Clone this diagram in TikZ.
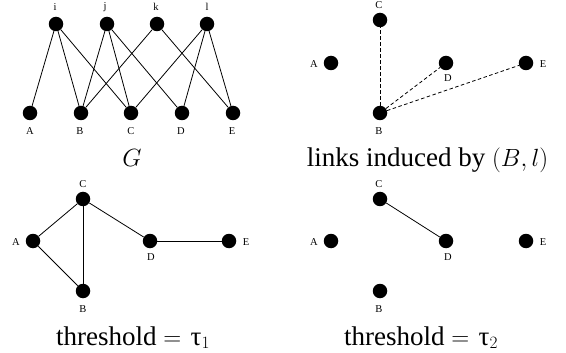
\documentclass[tikz,border=0pt]{standalone}
\usepackage{fontspec}
\setmainfont{Liberation Serif}
\begin{document}
\begin{tikzpicture}[x=1pt,y=-1pt,
  vtx/.style={circle,fill=black,inner sep=0pt,minimum size=14.5pt},
  lbl/.style={font=\fontsize{10.5}{10.5}\selectfont,inner sep=0pt},
  captxt/.style={font=\fontsize{27}{27}\selectfont,inner sep=0pt,anchor=base},
  lnk/.style={line width=0.8pt},
  dlnk/.style={line width=0.8pt,dash pattern=on 3.5pt off 2.5pt}]
\useasboundingbox (0,0) rectangle (566,353);
% ---------- panel G ----------
\node[vtx] (gi) at (56,24) {};
\node[vtx] (gj) at (107,24) {};
\node[vtx] (gk) at (157,24) {};
\node[vtx] (gl) at (207,24) {};
\node[vtx] (gA) at (30,113) {};
\node[vtx] (gB) at (81,113) {};
\node[vtx] (gC) at (131,113) {};
\node[vtx] (gD) at (182,113) {};
\node[vtx] (gE) at (233,113) {};
\node[lbl] (lgi) at (55,7) {i};
\node[lbl] (lgj) at (105,7) {j};
\node[lbl] (lgk) at (156,7) {k};
\node[lbl] (lgl) at (207,7) {l};
\node[lbl] (lgA) at (30,131) {A};
\node[lbl] (lgB) at (80,131) {B};
\node[lbl] (lgC) at (131,131) {C};
\node[lbl] (lgD) at (181,131) {D};
\node[lbl] (lgE) at (232,131) {E};
\foreach \a/\b in {gi/gA,gi/gB,gi/gC,gj/gB,gj/gC,gj/gD,gk/gB,gk/gE,gl/gC,gl/gD,gl/gE}
  \draw[lnk] (\a) -- (\b);
\node[captxt] (capG) at (132,167) {$G$};
% ---------- panel links ----------
\node[vtx] (pC) at (380,20) {};
\node[vtx] (pA) at (331,63) {};
\node[vtx] (pD) at (446,63) {};
\node[vtx] (pE) at (526,63) {};
\node[vtx] (pB) at (380,113) {};
\node[lbl] (lpC) at (379,5.5) {C};
\node[lbl] (lpA) at (314,64) {A};
\node[lbl] (lpD) at (448,78) {D};
\node[lbl] (lpE) at (543,64) {E};
\node[lbl] (lpB) at (379,131) {B};
\foreach \b in {pC,pD,pE}
  \draw[dlnk] (pB) -- (\b);
\node[captxt] (capP) at (427.5,167) {links induced by $(B,l)$};
% ---------- panel tau1 ----------
\node[vtx] (qC) at (83,199) {};
\node[vtx] (qA) at (33,241) {};
\node[vtx] (qD) at (150,241) {};
\node[vtx] (qE) at (229,241) {};
\node[vtx] (qB) at (83,291) {};
\node[lbl] (lqC) at (83,184) {C};
\node[lbl] (lqA) at (16,242) {A};
\node[lbl] (lqD) at (151,257) {D};
\node[lbl] (lqE) at (246,242) {E};
\node[lbl] (lqB) at (83,309) {B};
\foreach \a/\b in {qC/qA,qA/qB,qC/qB,qC/qD,qD/qE}
  \draw[lnk] (\a) -- (\b);
\node[captxt] (capQ) at (133,345) {threshold $=$\hspace{0.35em}τ$_1$};
% ---------- panel tau2 ----------
\node[vtx] (rC) at (380,199) {};
\node[vtx] (rA) at (331,241) {};
\node[vtx] (rD) at (446,241) {};
\node[vtx] (rE) at (526,241) {};
\node[vtx] (rB) at (380,291) {};
\node[lbl] (lrC) at (379,184) {C};
\node[lbl] (lrA) at (314,242) {A};
\node[lbl] (lrD) at (448,257) {D};
\node[lbl] (lrE) at (543,242) {E};
\node[lbl] (lrB) at (379,309) {B};
\draw[lnk] (rC) -- (rD);
\node[captxt] (capR) at (421,345) {threshold $=$\hspace{0.35em}τ$_2$};
\end{tikzpicture}
\end{document}
